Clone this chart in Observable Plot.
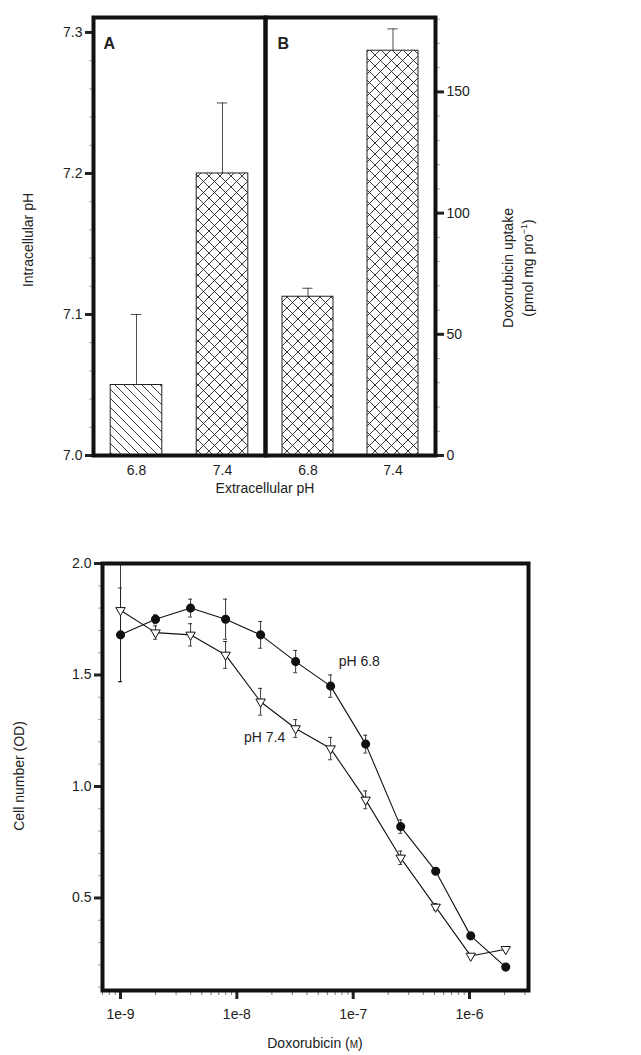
<!DOCTYPE html>
<html><head><meta charset="utf-8">
<script src="https://cdn.jsdelivr.net/npm/d3@7"></script>
<script src="https://cdn.jsdelivr.net/npm/@observablehq/plot@0.6"></script>
<style>
body{margin:0;background:#fff;font-family:"Liberation Sans",Arial,sans-serif;}
#wrap{position:relative;width:641px;height:1055px;}
.lab{position:absolute;font-size:14px;color:#222;white-space:nowrap;}
</style></head><body>
<svg width="0" height="0" style="position:absolute">
 <defs>
  <pattern id="diag" patternUnits="userSpaceOnUse" width="9" height="9">
   <path d="M-2,-2 L11,11 M-2,7 L2,11 M7,-2 L11,2" stroke="#222" stroke-width="0.9"/>
  </pattern>
  <pattern id="cross" patternUnits="userSpaceOnUse" width="11" height="11">
   <path d="M-2,-2 L13,13 M-2,9 L2,13 M9,-2 L13,2 M-2,13 L13,-2 M-2,2 L2,-2 M9,13 L13,9" stroke="#222" stroke-width="0.9"/>
  </pattern>
 </defs>
</svg>
<div id="wrap"></div>
<script>
// Panel A: intracellular pH
const aCats = ["6.8", "7.4"];
const aVals = [7.05, 7.20];
const aErr = [0.05, 0.05];
const aFill = ["url(#diag)", "url(#cross)"];
// Panel B: doxorubicin uptake
const bCats = ["6.8", "7.4"];
const bVals = [65.5, 167];
const bErr = [3.5, 9];
// Bottom: cell number vs doxorubicin
const conc = [1e-9,2e-9,4e-9,8e-9,1.6e-8,3.2e-8,6.4e-8,1.28e-7,2.56e-7,5.12e-7,1.024e-6,2.048e-6];
const od68 = [1.68,1.75,1.80,1.75,1.68,1.56,1.45,1.19,0.82,0.62,0.33,0.19];
const err68 = [0.21,0.02,0.04,0.09,0.06,0.05,0.05,0.04,0.03,0.01,0.01,0.01];
const od74 = [1.79,1.69,1.68,1.59,1.38,1.26,1.17,0.94,0.68,0.46,0.24,0.27];
const err74 = [0.32,0.03,0.05,0.06,0.06,0.04,0.05,0.04,0.03,0.015,0.005,0.005];
const xTicks = [1e-9,1e-8,1e-7,1e-6];
const xTickLabels = ["1e-9","1e-8","1e-7","1e-6"];

const wrap = document.getElementById("wrap");
const font = {fontFamily:"Liberation Sans, Arial, sans-serif", fontSize:"14px", color:"#222", background:"transparent", overflow:"visible", position:"absolute", top:"0px"};
const blank = () => "";

const A = aCats.map((c,i)=>({x:i, c, v:aVals[i], e:aErr[i], f:aFill[i]}));
const B = bCats.map((c,i)=>({x:i, c, v:bVals[i], e:bErr[i]}));

const plotA = Plot.plot({
  width:265, height:500, marginLeft:93, marginRight:0, marginTop:17, marginBottom:45,
  style:{...font, left:"0px"},
  x:{domain:[-0.5,1.5], axis:null},
  y:{domain:[7.0,7.3106], axis:null},
  marks:[
    Plot.ruleX(A,{x:"x", y1:"v", y2:d=>d.v+d.e, stroke:"#222", strokeWidth:0.8}),
    Plot.ruleY(A,{x1:d=>d.x-0.06, x2:d=>d.x+0.06, y:d=>d.v+d.e, strokeWidth:0.8}),
    Plot.rectY(A,{x1:d=>d.x-0.3, x2:d=>d.x+0.3, y1:7.0, y2:"v", fill:d=>d.f, stroke:"#222", strokeWidth:1}),
    Plot.axisY({ticks:[7.0,7.1,7.2,7.3], tickFormat:d3.format(".1f"), tickSize:8, strokeWidth:3, tickPadding:3, fontSize:14, label:null}),
    Plot.axisY({ticks:d3.range(7.0,7.31,0.02), tickFormat:blank, tickSize:4, strokeWidth:0.4, label:null}),
    Plot.text(A,{x:"x", y:7.0, text:"c", dy:15, fontSize:14}),
    Plot.text(["A"],{x:-0.5, y:7.3106, text:d=>d, dx:10, dy:26, textAnchor:"start", fontWeight:"bold", fontSize:16}),
    Plot.frame({stroke:"#111", strokeWidth:4})
  ]
});
wrap.appendChild(plotA);

const plotB = Plot.plot({
  width:376, height:500, marginLeft:0, marginRight:206, marginTop:17, marginBottom:45,
  style:{...font, left:"265px"},
  x:{domain:[-0.5,1.5], axis:null},
  y:{domain:[0,180.7], axis:null},
  marks:[
    Plot.ruleX(B,{x:"x", y1:"v", y2:d=>d.v+d.e, stroke:"#222", strokeWidth:0.8}),
    Plot.ruleY(B,{x1:d=>d.x-0.06, x2:d=>d.x+0.06, y:d=>d.v+d.e, strokeWidth:0.8}),
    Plot.rectY(B,{x1:d=>d.x-0.3, x2:d=>d.x+0.3, y1:0, y2:"v", fill:"url(#cross)", stroke:"#222", strokeWidth:1}),
    Plot.axisY({anchor:"right", ticks:[0,50,100,150], tickSize:8, strokeWidth:3, tickPadding:3, fontSize:14, label:null}),
    Plot.axisY({anchor:"right", ticks:d3.range(0,181,10), tickFormat:blank, tickSize:4, strokeWidth:0.4, label:null}),
    Plot.text(B,{x:"x", y:0, text:"c", dy:15, fontSize:14}),
    Plot.text(["B"],{x:-0.5, y:180.7, text:d=>d, dx:12, dy:26, textAnchor:"start", fontWeight:"bold", fontSize:16}),
    Plot.frame({stroke:"#111", strokeWidth:4})
  ]
});
wrap.appendChild(plotB);

// bottom panel
const S68 = conc.map((c,i)=>({c, v:od68[i], e:err68[i]}));
const S74 = conc.map((c,i)=>({c, v:od74[i], e:err74[i]}));
const xmin = Math.pow(10,-9.155), xmax = Math.pow(10,-5.493);
const minor = [];
for (let p=-10;p<=-6;p++) for (let m=2;m<=9;m++){const v=m*Math.pow(10,p); if(v>=xmin&&v<=xmax) minor.push(v);}
const errMarks = (S)=>[
  Plot.ruleX(S,{x:"c", y1:d=>Math.max(d.v-d.e,0.1), y2:d=>Math.min(d.v+d.e,2.0), stroke:"#222", strokeWidth:0.9}),
  Plot.ruleY(S.filter(d=>d.v+d.e<2.0),{x1:d=>d.c/1.04, x2:d=>d.c*1.04, y:d=>d.v+d.e, strokeWidth:0.9}),
  Plot.ruleY(S,{x1:d=>d.c/1.04, x2:d=>d.c*1.04, y:d=>d.v-d.e, strokeWidth:0.9})
];
const plotC = Plot.plot({
  width:641, height:1055, marginLeft:102, marginRight:113, marginTop:563, marginBottom:65,
  style:{...font, left:"0px"},
  x:{type:"log", domain:[xmin, xmax], axis:null},
  y:{domain:[0.085,2.0], axis:null},
  marks:[
    ...errMarks(S68), ...errMarks(S74),
    Plot.line(S68,{x:"c", y:"v", stroke:"#111", strokeWidth:1.1}),
    Plot.line(S74,{x:"c", y:"v", stroke:"#111", strokeWidth:1.1}),
    Plot.dot(S68,{x:"c", y:"v", r:3.8, fill:"#111", stroke:"#111"}),
    Plot.dot(S74,{x:"c", y:"v", r:3.5, symbol:"triangle", rotate:180, fill:"white", stroke:"#111", strokeWidth:1}),
    Plot.axisY({ticks:[0.5,1.0,1.5,2.0], tickFormat:d3.format(".1f"), tickSize:8, strokeWidth:3, tickPadding:3, fontSize:14, label:null}),
    Plot.axisY({ticks:d3.range(0.1,2.01,0.1), tickFormat:blank, tickSize:4, strokeWidth:0.4, label:null}),
    Plot.axisX({ticks:xTicks, tickFormat:d=>xTickLabels[xTicks.indexOf(d)], tickSize:9, strokeWidth:3, tickPadding:10, fontSize:14, label:null}),
    Plot.axisX({ticks:minor, tickFormat:blank, tickSize:5, strokeWidth:0.6, label:null}),
    Plot.text(["pH 6.8"],{x:[7.5e-8], y:[1.56], text:d=>d, textAnchor:"start", fontSize:14}),
    Plot.text(["pH 7.4"],{x:[1.15e-8], y:[1.22], text:d=>d, textAnchor:"start", fontSize:14}),
    Plot.frame({stroke:"#111", strokeWidth:4})
  ]
});
wrap.appendChild(plotC);

function lab(html, css){const d=document.createElement("div");d.className="lab";d.innerHTML=html;Object.assign(d.style,css);wrap.appendChild(d);return d;}
lab("Intracellular pH",{left:"28px",top:"240px",transform:"translate(-50%,-50%) rotate(-90deg)"});
lab("Doxorubicin uptake<br>(pmol mg pro<sup style='font-size:9px'>−1</sup>)",{left:"518px",top:"268px",textAlign:"center",lineHeight:"16px",transform:"translate(-50%,-50%) rotate(-90deg)"});
lab("Extracellular pH",{left:"265px",top:"488px",transform:"translate(-50%,-50%)"});
lab("Cell number (OD)",{left:"19px",top:"776px",transform:"translate(-50%,-50%) rotate(-90deg)"});
lab("Doxorubicin (<span style='font-variant:small-caps'>m</span>)",{left:"315px",top:"1043px",transform:"translate(-50%,-50%)"});
</script>
</body></html>
